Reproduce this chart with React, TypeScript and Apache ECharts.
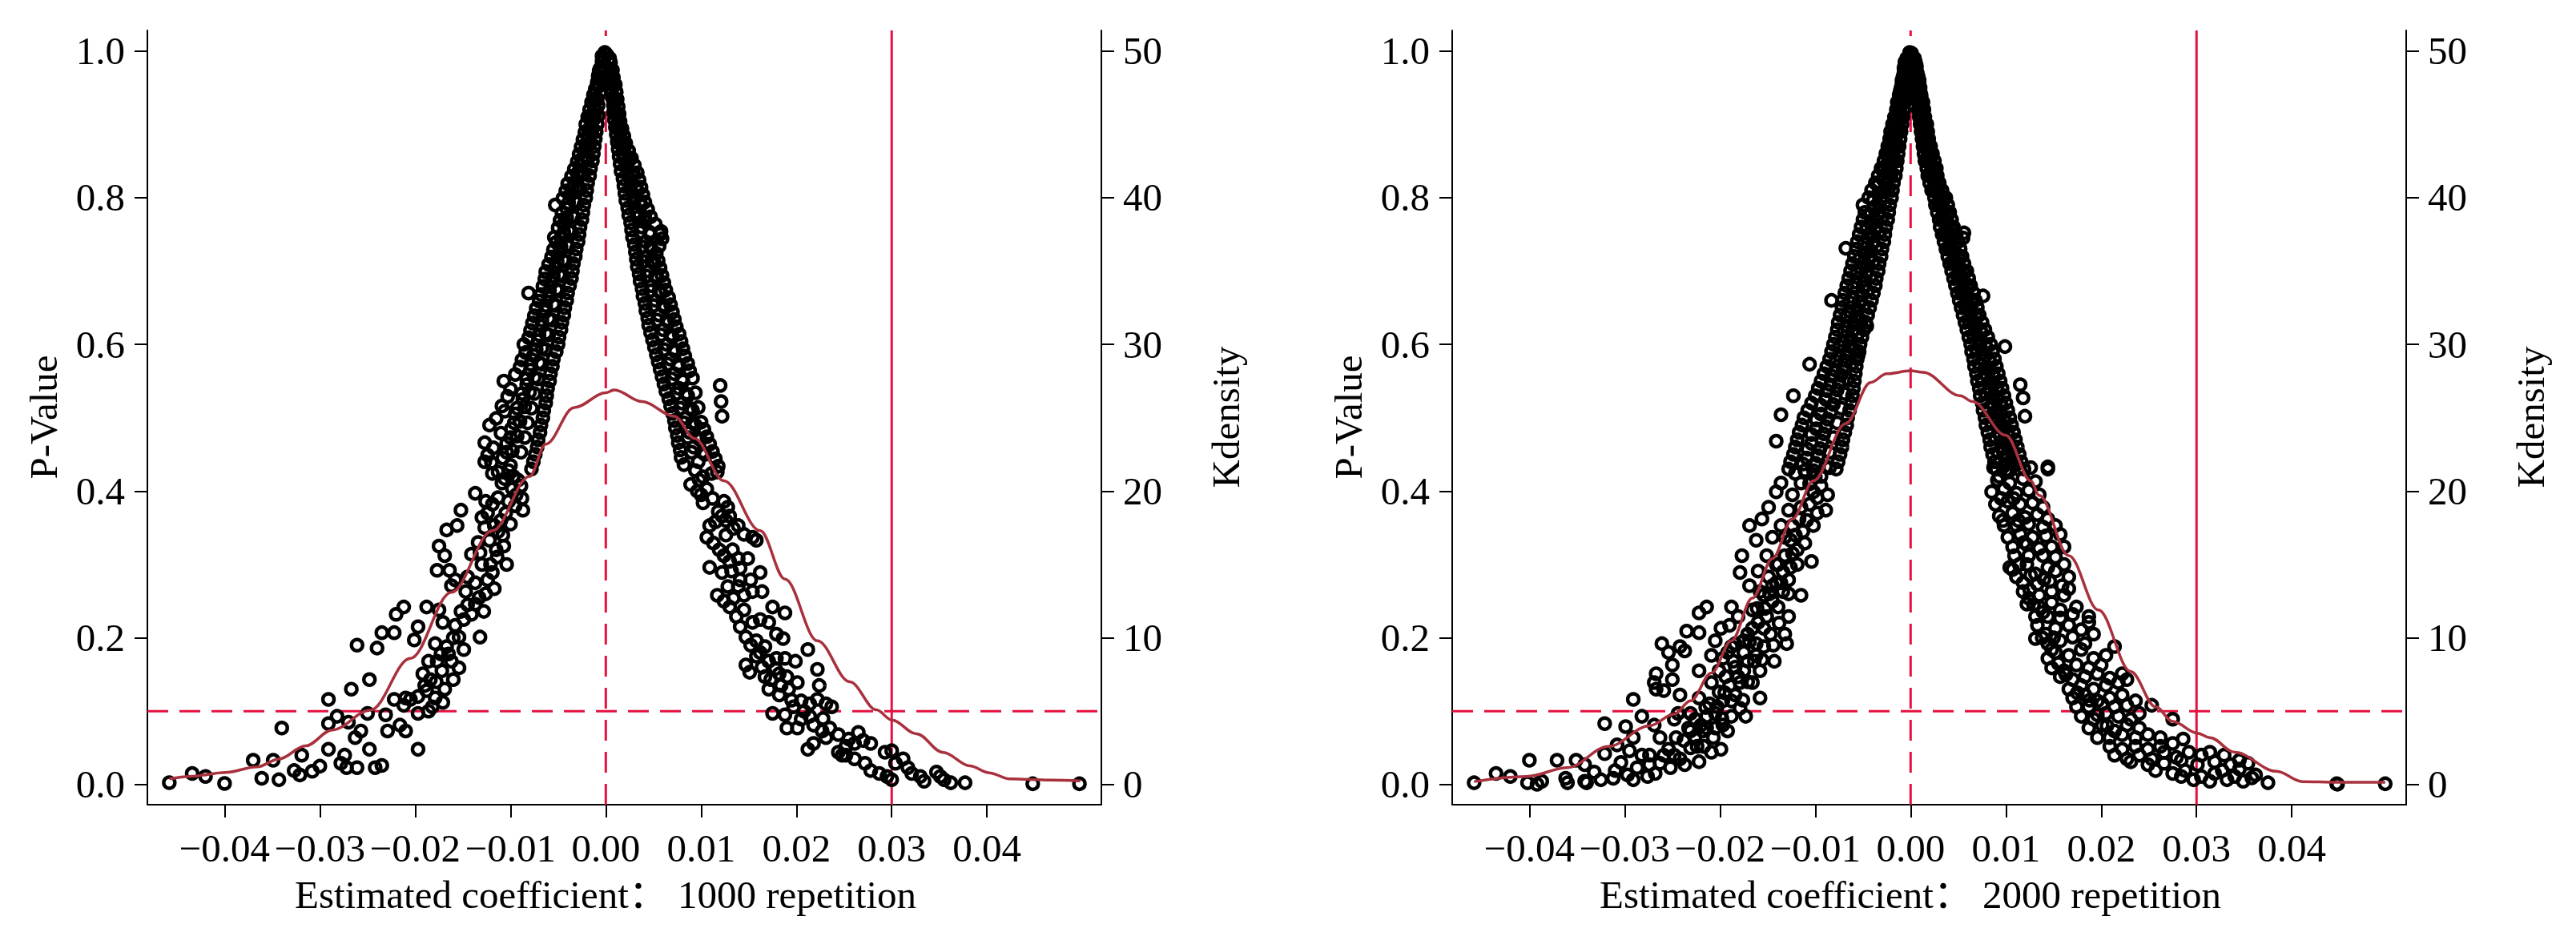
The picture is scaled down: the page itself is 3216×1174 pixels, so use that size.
import React, { useEffect, useRef } from "react";
import * as echarts from "echarts";

type Pt = [number, number];

const FONT = "'Liberation Serif', 'Times New Roman', 'Noto Sans CJK SC', serif";

const coefTicks = [-0.04, -0.03, -0.02, -0.01, 0, 0.01, 0.02, 0.03, 0.04];
const pTicks = [0, 0.2, 0.4, 0.6, 0.8, 1.0];
const kdTicks = [0, 10, 20, 30, 40, 50];

const zeroCoef = 0;
const pCutoff = 0.1;
const trueCoef = 0.03;

const X_MIN = -0.0481, X_MAX = 0.052;
const P_MIN = -0.0275, P_MAX = 1.028;
const KD_MIN = -1.375, KD_MAX = 51.4;

const xTitles = ["Estimated coefficient： 1000 repetition", "Estimated coefficient： 2000 repetition"];
const yTitleLeft = "P-Value";
const yTitleRight = "Kdensity";

// ---------- 1000 repetitions: [coefficient, p-value] ----------
const rep1000NegUpper: Pt[] = [
  [-.0001,.998],[-.0002,.99],[-.0004,.986],[-.0003,.98],[-.0006,.976],[-.0004,.97],[-.0008,.966],[-.0005,.96],[-.0009,.957],[-.0007,.952],
  [-.0011,.948],[-.0006,.943],[-.0013,.94],[-.0009,.935],[-.0015,.93],[-.0008,.926],[-.0012,.922],[-.0017,.92],[-.0008,.912],[-.0019,.91],
  [-.0013,.906],[-.0009,.9],[-.0021,.9],[-.0015,.895],[-.001,.89],[-.0022,.889],[-.0011,.88],[-.0024,.879],[-.0017,.875],[-.0012,.87],
  [-.0026,.869],[-.0013,.86],[-.0028,.859],[-.002,.855],[-.0014,.85],[-.003,.849],[-.0016,.84],[-.0033,.839],[-.0024,.835],[-.0017,.83],
  [-.0036,.829],[-.0019,.82],[-.004,.819],[-.0029,.815],[-.002,.81],[-.0042,.809],[-.0021,.8],[-.0045,.799],[-.0033,.795],[-.0023,.79],
  [-.0053,.79],[-.0024,.78],[-.0046,.779],[-.0035,.775],[-.0025,.77],[-.0048,.769],[-.0027,.76],[-.005,.759],[-.0039,.755],[-.0028,.75],
  [-.0054,.746],[-.0029,.74],[-.0052,.739],[-.0041,.735],[-.0031,.73],[-.0055,.729],[-.0032,.72],[-.0057,.719],[-.0045,.715],[-.0034,.71],
  [-.006,.709],[-.0035,.7],[-.0063,.699],[-.0049,.695],[-.0036,.69],[-.0064,.689],[-.0038,.68],[-.0066,.679],[-.0052,.675],[-.004,.67],
  [-.0081,.67],[-.0068,.668],[-.0041,.66],[-.007,.659],[-.0055,.655],[-.0043,.65],[-.0073,.649],[-.0044,.64],[-.0075,.639],[-.006,.635],
  [-.0046,.63],[-.0077,.629],[-.0047,.62],[-.0079,.619],[-.0063,.615],[-.0049,.61],[-.0081,.609],[-.005,.6],[-.0086,.6],[-.0067,.595],
  [-.0052,.59],[-.0084,.589],[-.0055,.58],[-.0088,.579],[-.007,.575],[-.0056,.57],[-.009,.569],[-.0058,.56],[-.0095,.559],[-.0075,.555],
  [-.0059,.55],[-.0107,.55],[-.0061,.54],[-.01,.539],[-.008,.535],[-.0062,.53],[-.0103,.529],[-.0063,.52],[-.0109,.516],[-.0085,.515],
  [-.0065,.51],[-.0106,.509],[-.0066,.5],[-.0115,.499],[-.009,.495],[-.0068,.49],[-.0122,.49],[-.0069,.48],[-.011,.479],[-.0093,.475],
  [-.0071,.47],[-.0127,.466],[-.0072,.46],[-.0118,.459],[-.0098,.455],[-.0074,.45],[-.0124,.449],[-.0076,.44],[-.012,.439],[-.01,.435],
  [-.0078,.43],[-.0127,.44],
  [-.0004,.993],[-.0007,.963],[-.0011,.932],[-.0016,.912],[-.0019,.884],[-.0022,.864],[-.0027,.844],[-.0031,.823],[-.0037,.804],[-.0041,.785],
  [-.0044,.764],[-.0047,.745],[-.0049,.724],[-.0053,.704],[-.0057,.684],[-.006,.664],[-.0064,.645],[-.0067,.625],[-.0071,.605],[-.0076,.585],
  [-.0079,.565],[-.0083,.545],[-.0087,.525],[-.0095,.505],[-.0099,.485],[-.0104,.465],[-.0108,.445],
  [-.0005,.973],[-.0007,.973],[-.0007,.953],[-.0009,.953],[-.001,.933],[-.0012,.933],[-.0012,.913],[-.0015,.913],[-.0014,.893],[-.0018,.893],
  [-.0017,.873],[-.0021,.873],[-.0019,.853],[-.0025,.853],[-.0023,.833],[-.003,.833],[-.0027,.813],[-.0035,.813],[-.003,.793],[-.0039,.793],
  [-.0033,.773],[-.0041,.773],[-.0036,.753],[-.0044,.753],[-.0039,.733],[-.0047,.733],[-.0043,.713],[-.0051,.713],[-.0045,.693],[-.0055,.693],
  [-.0049,.673],[-.0059,.673],[-.0053,.653],[-.0063,.653],[-.0056,.633],[-.0067,.633],[-.006,.613],[-.007,.613],[-.0063,.593],[-.0073,.593],
  [-.0067,.573],[-.0079,.573],[-.0071,.553],[-.0083,.553],[-.0075,.533],[-.0088,.533],[-.0078,.513],[-.0093,.513],[-.0082,.493],[-.0096,.493],
  [-.0085,.473],[-.01,.473],[-.0089,.453],[-.0104,.453]
];

const rep1000NegLower: Pt[] = [
  [-.0119,.424],[-.0113,.426],[-.0102,.428],[-.0109,.411],[-.0098,.403],[-.0089,.407],[-.0094,.395],[-.0102,.386],[-.0087,.374],[-.0137,.397],
  [-.0126,.386],[-.0119,.382],[-.0113,.391],[-.0124,.37],[-.013,.364],[-.0117,.353],[-.0113,.345],[-.0122,.333],[-.0115,.32],[-.0107,.325],
  [-.0132,.316],[-.0104,.3],[-.0119,.289],[-.013,.3],[-.0141,.314],[-.0152,.374],[-.0156,.353],[-.0167,.347],[-.0175,.325],[-.0169,.312],
  [-.0164,.292],[-.0177,.292],[-.0158,.279],[-.0145,.283],[-.0137,.275],[-.0162,.271],[-.0147,.263],[-.0117,.267],[-.0124,.279],[-.0137,.246],
  [-.0128,.236],[-.0141,.232],[-.0149,.225],[-.0158,.217],[-.0171,.221],[-.0175,.238],[-.0154,.201],[-.0132,.201],[-.0149,.184],[-.0167,.188],
  [-.0179,.192],[-.0173,.178],[-.0162,.168],[-.0177,.168],[-.0186,.168],[-.0154,.159],[-.0192,.151],[-.0184,.143],[-.0169,.13],[-.016,.143],
  [-.0179,.118],[-.0171,.112],[-.0182,.106],[-.0188,.128],[-.0197,.12],[-.021,.118],[-.0197,.097],[-.0222,.116],[-.0231,.095],[-.0212,.242],
  [-.022,.232],[-.0222,.207],[-.0201,.197],[-.0197,.215],[-.0188,.242],[-.0235,.207],[-.024,.186],[-.0261,.19],[-.0248,.143],[-.0267,.13],
  [-.0291,.116],[-.0282,.093],[-.0291,.083],[-.027,.085],[-.0257,.073],[-.025,.097],[-.0229,.073],[-.0216,.081],[-.021,.073],[-.0263,.064],
  [-.0248,.048],[-.0274,.04],[-.0272,.023],[-.0291,.048],[-.03,.025],[-.0308,.018],[-.0319,.04],[-.0321,.013],[-.0327,.019],[-.034,.077],
  [-.0343,.0065],[-.0349,.033],[-.0361,.0085],[-.037,.033],[-.04,.0015],[-.042,.011],[-.0434,.015],[-.0458,.0025],[-.0242,.023],[-.0235,.026],
  [-.0261,.023],[-.0278,.029],[-.0197,.048],[-.0205,.116],[-.0212,.108],[-.0092,.415],[-.0097,.42],[-.0106,.417],[-.0088,.39],[-.0095,.38],
  [-.0105,.37],[-.011,.36],[-.01,.355],[-.0108,.34],[-.0114,.31],[-.0121,.3],[-.0127,.35],[-.0134,.33],
  [-.0126,.26],[-.0133,.255],[-.0145,.245],[-.0152,.236],[-.016,.2],[-.0165,.178],[-.0172,.155],[-.0178,.14],[-.019,.135],[-.0186,.1]
];

const rep1000PosUpper: Pt[] = [
  [.0001,.995],[.0003,.986],[.0005,.984],[.0004,.976],[.0007,.974],[.0005,.966],[.0008,.964],[.0006,.956],[.001,.954],[.0006,.946],
  [.0011,.944],[.0007,.936],[.0012,.934],[.0008,.926],[.0013,.924],[.0008,.916],[.0014,.914],[.0009,.906],[.0015,.904],[.0012,.9],
  [.001,.896],[.0017,.894],[.0011,.886],[.0019,.884],[.0015,.88],[.0012,.876],[.0021,.874],[.0013,.866],[.0024,.864],[.0018,.86],
  [.0014,.856],[.0027,.854],[.0015,.846],[.003,.844],[.0022,.84],[.0016,.836],[.0033,.834],[.0018,.826],[.0035,.824],[.0027,.82],
  [.0019,.816],[.0037,.814],[.002,.806],[.0039,.804],[.003,.8],[.0021,.796],[.0041,.794],[.0023,.786],[.0044,.784],[.0033,.78],
  [.0024,.776],[.0047,.774],[.0026,.766],[.0052,.764],[.0038,.76],[.0027,.756],[.0058,.754],[.0059,.744],[.0057,.75],[.0028,.746],
  [.0042,.74],[.003,.736],[.0056,.734],[.0031,.726],[.0053,.724],[.0043,.72],[.0032,.716],[.0055,.714],[.0033,.706],[.0057,.704],
  [.0045,.7],[.0035,.696],[.0059,.694],[.0036,.686],[.0061,.684],[.0048,.68],[.0038,.676],[.0063,.674],[.0039,.666],[.0066,.664],
  [.0052,.66],[.0041,.656],[.0068,.654],[.0042,.646],[.007,.644],[.0056,.64],[.0044,.636],[.0072,.634],[.0045,.626],[.0074,.624],
  [.006,.62],[.0047,.616],[.0077,.614],[.0049,.606],[.0079,.604],[.0064,.6],[.0051,.596],[.0081,.594],[.0053,.586],[.0083,.584],
  [.0068,.58],[.0055,.576],[.0086,.574],[.0057,.566],[.0088,.564],[.0072,.56],[.0059,.556],[.0091,.554],[.0061,.546],[.012,.544],
  [.0077,.54],[.0063,.536],[.0094,.534],[.0066,.526],[.0121,.522],[.008,.52],[.0068,.516],[.0097,.514],[.007,.506],[.0122,.502],
  [.0084,.5],[.0072,.496],[.01,.494],[.0073,.486],[.0103,.484],[.0088,.48],[.0075,.476],[.0106,.474],[.0076,.466],[.0109,.464],
  [.0092,.46],[.0078,.456],[.0112,.454],[.0079,.446],[.0115,.444],[.0097,.44],[.0082,.436],[.0118,.434],
  [.0004,.99],[.0007,.96],[.001,.93],[.0013,.91],[.0016,.89],[.002,.87],[.0024,.85],[.0028,.83],[.0033,.81],[.0037,.79],
  [.004,.77],[.0046,.75],[.0048,.73],[.0051,.71],[.0054,.69],[.0058,.67],[.0062,.65],[.0066,.63],[.007,.61],[.0073,.59],
  [.0077,.57],[.0081,.55],[.0086,.53],[.0091,.51],[.0094,.49],[.0099,.47],[.0104,.45],
  [.0005,.973],[.0006,.973],[.0007,.953],[.0009,.953],[.0009,.933],[.0011,.933],[.0011,.913],[.0013,.913],[.0013,.893],[.0016,.893],
  [.0016,.873],[.0019,.873],[.0019,.853],[.0024,.853],[.0023,.833],[.0029,.833],[.0026,.813],[.0032,.813],[.0029,.793],[.0036,.793],
  [.0033,.773],[.0041,.773],[.0036,.753],[.0046,.753],[.0038,.733],[.0047,.733],[.004,.713],[.0048,.713],[.0043,.693],[.0052,.693],
  [.0047,.673],[.0056,.673],[.005,.653],[.006,.653],[.0054,.633],[.0064,.633],[.0058,.613],[.0068,.613],[.0061,.593],[.0071,.593],
  [.0065,.573],[.0076,.573],[.0069,.553],[.008,.553],[.0074,.533],[.0084,.533],[.0078,.513],[.0088,.513],[.0082,.493],[.0091,.493],
  [.0086,.473],[.0096,.473],[.009,.453],[.0101,.453]
];

const rep1000PosLower: Pt[] = [
  [.0094,.428],[.0102,.4195],[.0111,.424],[.0117,.426],[.0089,.409],[.0106,.403],[.01,.395],[.0102,.384],[.0124,.386],[.0128,.378],
  [.0122,.366],[.0115,.358],[.0109,.353],[.013,.366],[.0134,.349],[.0139,.353],[.0145,.341],[.0154,.337],[.0158,.333],[.0106,.337],
  [.0113,.329],[.0119,.32],[.0124,.312],[.013,.304],[.0139,.308],[.0149,.308],[.0109,.296],[.0122,.289],[.0132,.291],[.0141,.279],
  [.0152,.279],[.0162,.289],[.0117,.258],[.0124,.25],[.0134,.254],[.0145,.258],[.0154,.263],[.0164,.263],[.013,.242],[.0137,.229],
  [.0145,.238],[.0154,.221],[.0162,.225],[.0171,.221],[.0175,.242],[.0188,.234],[.0147,.201],[.0158,.196],[.0167,.188],[.0179,.205],
  [.0186,.199],[.0147,.163],[.0151,.153],[.0162,.18],[.0171,.168],[.0179,.172],[.0188,.172],[.0199,.168],[.0167,.147],[.0173,.143],
  [.0182,.151],[.019,.147],[.0171,.13],[.0182,.122],[.0192,.13],[.0201,.139],[.0212,.184],[.0222,.157],[.0224,.135],[.0205,.114],
  [.0214,.11],[.0222,.116],[.0231,.11],[.0237,.106],[.0175,.097],[.0188,.095],[.0197,.106],[.0205,.089],[.0214,.093],[.019,.077],
  [.0201,.077],[.0218,.081],[.0227,.073],[.0235,.077],[.0244,.068],[.0212,.048],[.0218,.056],[.0231,.064],[.0265,.071],[.0252,.052],
  [.0261,.056],[.027,.06],[.0278,.056],[.0248,.04],[.0261,.035],[.0272,.029],[.0278,.019],[.0287,.015],[.0295,.011],[.03,.0065],
  [.0293,.044],[.03,.046],[.0304,.029],[.0312,.035],[.0317,.023],[.0321,.015],[.033,.011],[.0334,.0044],[.0347,.017],[.0351,.011],
  [.0355,.0065],[.0362,.0024],[.0377,.0024],[.0244,.044],[.0252,.04],[.0448,.001],[.0497,.001],
  [.0098,.415],[.0096,.4],[.0112,.39],[.0118,.372],[.0126,.36],[.0126,.34],[.0133,.32],[.0141,.295],[.0128,.27],[.0139,.27],
  [.0141,.215],[.0152,.19],[.0158,.175],[.0164,.16],[.0178,.158],[.0184,.135],[.0195,.115],[.0208,.1],[.0228,.09],[.0255,.062]
];

// ---------- 2000 repetitions: [coefficient, p-value] ----------
const rep2000NegUpper: Pt[] = [
  [-.0001,.998],[-.0001,.993],
  [-.0002,.99],[-.0003,.988],[-.0004,.99],[-.0003,.98],[-.0004,.978],[-.0006,.98],[-.0004,.97],[-.0006,.968],[-.0007,.97],
  [-.0004,.96],[-.0007,.958],[-.0009,.96],[-.0005,.95],[-.0008,.948],[-.001,.95],[-.0006,.94],[-.0009,.938],[-.0012,.94],
  [-.0006,.93],[-.001,.928],[-.0014,.93],[-.0007,.92],[-.0011,.918],[-.0015,.92],[-.0008,.91],[-.0012,.908],[-.0017,.91],
  [-.0009,.9],[-.0013,.898],[-.0019,.9],[-.001,.89],[-.0015,.888],[-.0021,.89],[-.0011,.88],[-.0016,.878],[-.0022,.88],
  [-.0012,.87],[-.0018,.868],[-.0024,.87],[-.0013,.86],[-.0019,.858],[-.0026,.86],[-.0014,.85],[-.0021,.848],[-.0028,.85],
  [-.0015,.84],[-.0022,.838],[-.0031,.84],[-.0016,.83],[-.0024,.828],[-.0034,.83],[-.0018,.82],[-.0026,.818],[-.0037,.82],
  [-.0019,.81],[-.0028,.808],[-.0041,.81],[-.002,.8],[-.003,.798],[-.0044,.8],[-.0022,.79],[-.0032,.788],[-.005,.79],
  [-.0023,.78],[-.0034,.778],[-.0048,.78],[-.0024,.77],[-.0035,.768],[-.005,.77],[-.0026,.76],[-.0037,.758],[-.0052,.76],
  [-.0027,.75],[-.0039,.748],[-.0054,.75],[-.0028,.74],[-.004,.738],[-.0056,.74],[-.003,.73],[-.0042,.728],[-.0057,.73],[-.0068,.731],
  [-.0031,.72],[-.0044,.718],[-.0059,.72],[-.0033,.71],[-.0046,.708],[-.0061,.71],[-.0034,.7],[-.0047,.698],[-.0063,.7],
  [-.0036,.69],[-.0049,.688],[-.0065,.69],[-.0037,.68],[-.005,.678],[-.0067,.68],[-.0039,.67],[-.0052,.668],[-.0069,.67],
  [-.0041,.66],[-.0054,.658],[-.0071,.66],[-.0083,.66],[-.0043,.65],[-.0056,.648],[-.0072,.65],[-.0045,.64],[-.0058,.638],[-.0074,.64],
  [-.0047,.63],[-.0059,.628],[-.0076,.63],[-.0049,.62],[-.0061,.618],[-.0077,.62],[-.0046,.625],[-.0051,.61],[-.0063,.608],[-.0079,.61],
  [-.0053,.6],[-.0065,.598],[-.0081,.6],[-.0054,.59],[-.0067,.588],[-.0083,.59],[-.0055,.585],[-.0056,.58],[-.0069,.578],[-.0085,.58],
  [-.0057,.57],[-.0071,.568],[-.0088,.57],[-.0106,.573],[-.0058,.56],[-.0073,.558],[-.0091,.56],[-.0059,.55],[-.0075,.548],[-.0094,.55],
  [-.006,.54],[-.0077,.538],[-.0097,.54],[-.0061,.53],[-.0079,.528],[-.01,.53],[-.0123,.53],[-.0062,.52],[-.0081,.518],[-.0104,.52],
  [-.0064,.51],[-.0084,.508],[-.0108,.51],[-.0066,.5],[-.0087,.498],[-.0112,.5],[-.0136,.504],[-.0067,.49],[-.0089,.488],[-.0114,.49],
  [-.0069,.48],[-.0091,.478],[-.0117,.48],[-.0071,.47],[-.0093,.468],[-.0119,.47],[-.0141,.468],[-.0072,.46],[-.0095,.458],[-.0121,.46],
  [-.0074,.45],[-.0097,.448],[-.0123,.45],[-.0076,.44],[-.01,.438],[-.0126,.44],[-.0078,.43],[-.0102,.428],[-.0128,.43],
  [-.0006,.985],[-.0008,.965],[-.0011,.945],[-.0013,.925],[-.0016,.905],[-.0019,.885],[-.0022,.865],[-.0025,.845],[-.0029,.825],[-.0034,.805],
  [-.0038,.785],[-.0042,.765],[-.0045,.745],[-.0049,.725],[-.0053,.705],[-.0057,.685],[-.0061,.665],[-.0064,.645],[-.0067,.625],[-.0071,.605],
  [-.0075,.585],[-.0079,.565],[-.0084,.545],[-.0089,.525],[-.0094,.505],[-.0099,.485],[-.0104,.465],[-.0109,.445],
  [-.0005,.973],[-.0007,.977],[-.0006,.953],[-.0009,.957],[-.0008,.933],[-.0012,.937],[-.001,.913],[-.0014,.917],[-.0012,.893],[-.0017,.897],
  [-.0015,.873],[-.0021,.877],[-.0017,.853],[-.0024,.857],[-.002,.833],[-.0029,.837],[-.0023,.813],[-.0034,.817],[-.0027,.793],[-.0039,.797],
  [-.003,.773],[-.0042,.777],[-.0033,.753],[-.0046,.757],[-.0036,.733],[-.0049,.737],[-.0039,.713],[-.0053,.717],[-.0042,.693],[-.0056,.697],
  [-.0045,.673],[-.006,.677],[-.0049,.653],[-.0064,.657],[-.0052,.633],[-.0067,.637],[-.0056,.613],[-.007,.617],[-.0059,.593],[-.0074,.597],
  [-.0062,.573],[-.0078,.577],[-.0066,.553],[-.0083,.557],[-.0069,.533],[-.0088,.537],[-.0073,.513],[-.0094,.517],[-.0077,.493],[-.0099,.497],
  [-.0081,.473],[-.0104,.477],[-.0085,.453],[-.0108,.457],[-.0089,.433],[-.0113,.437]
];

const rep2000NegLower: Pt[] = [
  [-.0458,.0024],[-.0435,.015],[-.042,.011],[-.04,.033],[-.0402,.0024],[-.0392,.0003],[-.0387,.0044],[-.0371,.033],[-.0362,.0085],[-.0351,.033],
  [-.0342,.0044],[-.034,.0024],[-.0332,.017],[-.0342,.027],[-.0321,.083],[-.0321,.042],[-.0312,.0085],[-.031,.019],[-.0308,.054],[-.0299,.079],
  [-.0297,.013],[-.0295,.046],[-.0291,.064],[-.0291,.116],[-.0287,.023],[-.0282,.093],[-.0276,.011],[-.0274,.04],[-.0274,.027],[-.0269,.139],
  [-.0269,.081],[-.0267,.151],[-.0267,.13],[-.0263,.064],[-.0263,.029],[-.0261,.192],[-.0259,.128],[-.0254,.18],[-.0254,.048],[-.025,.163],
  [-.025,.143],[-.0248,.089],[-.0246,.064],[-.0244,.097],[-.0242,.122],[-.0242,.188],[-.0237,.182],[-.0237,.027],[-.0235,.209],[-.0233,.077],
  [-.0231,.097],[-.0231,.05],[-.0226,.089],[-.0224,.052],[-.0222,.207],[-.0222,.234],[-.0222,.155],[-.0222,.118],[-.022,.081],[-.0218,.073],
  [-.0214,.242],[-.0214,.093],[-.0211,.11],[-.0209,.176],[-.0209,.139],[-.0207,.064],[-.0205,.077],[-.0205,.196],[-.0203,.106],[-.0201,.126],
  [-.0201,.155],[-.0199,.213],[-.0199,.048],[-.0197,.081],[-.0197,.114],[-.0194,.147],[-.0192,.18],[-.019,.135],[-.019,.217],[-.0188,.242],
  [-.0188,.093],[-.0186,.168],[-.0184,.122],[-.0184,.192],[-.0181,.229],[-.0181,.147],[-.0179,.104],[-.0179,.289],[-.0177,.312],[-.0175,.155],
  [-.0175,.18],[-.0173,.093],[-.0171,.205],[-.0169,.353],[-.0169,.271],[-.0166,.238],[-.0166,.139],[-.0164,.168],[-.0162,.333],[-.0162,.192],
  [-.016,.291],[-.016,.221],[-.0158,.118],[-.0158,.155],[-.0156,.362],[-.0154,.258],[-.0154,.188],[-.0151,.312],[-.0151,.229],[-.0149,.378],
  [-.0147,.205],[-.0145,.271],[-.0145,.337],[-.0143,.168],[-.0141,.399],[-.0141,.3],[-.0139,.242],[-.0136,.411],[-.0136,.353],[-.0134,.263],
  [-.0132,.205],[-.0132,.312],[-.013,.192],[-.0128,.374],[-.0128,.279],[-.0128,.229],[-.0126,.333],[-.0124,.395],[-.0121,.424],[-.0119,.3],
  [-.0117,.362],[-.0115,.258],[-.0115,.411],[-.0111,.329],[-.0106,.382],[-.0104,.304],[-.0102,.353],[-.01,.4195],[-.0098,.391],[-.0094,.407],
  [-.0089,.374],[-.0087,.395],[-.0085,.432],[-.0111,.428],[-.0102,.399],[-.0115,.378],[-.0124,.353],[-.0132,.337],[-.0119,.32],[-.0139,.3],
  [-.0126,.296],[-.0149,.283],[-.0136,.275],[-.0158,.263],[-.0145,.25],[-.0166,.213],[-.0154,.213],[-.0175,.196],[-.0162,.176],[-.0188,.188],
  [-.0171,.168],[-.0197,.172],[-.0179,.139],[-.0188,.114],[-.0205,.097],[-.0214,.077],[-.0192,.073],[-.0231,.073],[-.0209,.044],[-.0222,.031],
  [-.0248,.04],[-.0252,.023],[-.0282,.04],[-.0291,.0065],[-.0325,.0065],[-.036,.0024],
  [-.0094,.42],[-.0106,.41],[-.0098,.37],[-.0109,.36],[-.0113,.345],[-.0121,.34],[-.0124,.315],[-.0134,.29],[-.0141,.275],[-.0128,.26],
  [-.0148,.26],[-.0138,.22],[-.0153,.24],[-.0161,.24],[-.0144,.19],[-.0169,.195],[-.0156,.17],[-.0184,.16],[-.0171,.14],[-.0195,.125],
  [-.0176,.115],[-.0215,.105],[-.0198,.09],[-.0226,.065],[-.0238,.06],[-.0217,.052],[-.0259,.04],[-.0242,.035],[-.0268,.015],[-.0304,.03]
];

const rep2000PosUpper: Pt[] = [
  [.0001,.997],[.0001,.993],
  [.0002,.99],[.0003,.988],[.0004,.99],[.0003,.98],[.0004,.978],[.0006,.98],[.0004,.97],[.0006,.968],[.0007,.97],
  [.0005,.96],[.0007,.958],[.0009,.96],[.0006,.95],[.0008,.948],[.001,.95],[.0007,.94],[.0009,.938],[.0011,.94],
  [.0008,.93],[.001,.928],[.0013,.93],[.0008,.92],[.0011,.918],[.0014,.92],[.0009,.91],[.0012,.908],[.0015,.91],
  [.001,.9],[.0013,.898],[.0017,.9],[.0011,.89],[.0014,.888],[.0018,.89],[.0012,.88],[.0015,.878],[.0019,.88],
  [.0013,.87],[.0017,.868],[.0021,.87],[.0014,.86],[.0018,.858],[.0023,.86],[.0015,.85],[.002,.848],[.0025,.85],
  [.0017,.84],[.0022,.838],[.0027,.84],[.0018,.83],[.0023,.828],[.0028,.83],[.002,.82],[.0025,.818],[.003,.82],
  [.0022,.81],[.0027,.808],[.0033,.81],[.0025,.8],[.0031,.798],[.0037,.8],[.0026,.79],[.0032,.788],[.0039,.79],
  [.0028,.78],[.0034,.778],[.0041,.78],[.003,.77],[.0036,.768],[.0043,.77],[.0031,.76],[.0038,.758],[.0045,.76],
  [.0033,.75],[.004,.748],[.0048,.75],[.0056,.752],[.0035,.74],[.0042,.738],[.005,.74],[.0055,.745],[.0037,.73],[.0044,.728],[.0052,.73],
  [.0039,.72],[.0046,.718],[.0054,.72],[.0041,.71],[.0048,.708],[.0056,.71],[.0043,.7],[.0051,.698],[.0059,.7],
  [.0045,.69],[.0053,.688],[.0061,.69],[.0047,.68],[.0055,.678],[.0063,.68],[.0049,.67],[.0057,.668],[.0066,.67],[.0076,.666],
  [.0051,.66],[.0059,.658],[.0068,.66],[.0053,.65],[.0061,.648],[.007,.65],[.0055,.64],[.0063,.638],[.0072,.64],
  [.0057,.63],[.0066,.628],[.0075,.63],[.0059,.62],[.0068,.618],[.0078,.62],[.0061,.61],[.0071,.608],[.0081,.61],
  [.0063,.6],[.0073,.598],[.0084,.6],[.0064,.59],[.0075,.588],[.0086,.59],[.0099,.597],[.0066,.58],[.0077,.578],[.0088,.58],
  [.0067,.57],[.0078,.568],[.009,.57],[.0069,.56],[.008,.558],[.0092,.56],[.007,.55],[.0082,.548],[.0094,.55],[.0115,.545],
  [.0072,.54],[.0084,.538],[.0096,.54],[.0073,.53],[.0085,.528],[.0098,.53],[.0118,.527],[.0075,.52],[.0087,.518],[.01,.52],
  [.0076,.51],[.0089,.508],[.0102,.51],[.0078,.5],[.0091,.498],[.0104,.5],[.012,.502],[.0079,.49],[.0092,.488],[.0106,.49],
  [.0081,.48],[.0094,.478],[.0108,.48],[.0083,.47],[.0096,.468],[.011,.47],[.0084,.46],[.0098,.458],[.0112,.46],
  [.0086,.45],[.01,.448],[.0114,.45],[.0088,.44],[.0102,.438],[.0116,.44],[.009,.43],[.0104,.428],[.0119,.43],[.0144,.433],
  [.0005,.985],[.0008,.965],[.001,.945],[.0012,.925],[.0014,.905],[.0017,.885],[.0019,.865],[.0022,.845],[.0026,.825],[.003,.805],
  [.0035,.785],[.0039,.765],[.0043,.745],[.0047,.725],[.0051,.705],[.0056,.685],[.006,.665],[.0064,.645],[.0069,.625],[.0074,.605],
  [.0079,.585],[.0083,.565],[.0087,.545],[.0091,.525],[.0095,.505],[.0099,.485],[.0103,.465],[.0107,.445],
  [.0005,.973],[.0006,.977],[.0006,.953],[.0009,.957],[.0008,.933],[.0011,.937],[.001,.913],[.0013,.917],[.0012,.893],[.0015,.897],
  [.0015,.873],[.0018,.877],[.0017,.853],[.0022,.857],[.002,.833],[.0025,.837],[.0024,.813],[.003,.817],[.0029,.793],[.0035,.797],
  [.0033,.773],[.0039,.777],[.0036,.753],[.0043,.757],[.004,.733],[.0047,.737],[.0044,.713],[.0051,.717],[.0049,.693],[.0056,.697],
  [.0053,.673],[.006,.677],[.0057,.653],[.0064,.657],[.0061,.633],[.0069,.637],[.0066,.613],[.0074,.617],[.0069,.593],[.0079,.597],
  [.0072,.573],[.0083,.577],[.0075,.553],[.0087,.557],[.0079,.533],[.0091,.537],[.0082,.513],[.0095,.517],[.0085,.493],[.0098,.497],
  [.0089,.473],[.0102,.477],[.0092,.453],[.0106,.457],[.0097,.433],[.0111,.437]
];

const rep2000PosLower: Pt[] = [
  [.0087,.432],[.01,.428],[.0113,.43],[.0126,.432],[.0144,.43],[.0091,.415],[.0104,.411],[.0118,.417],[.0131,.413],[.0085,.399],
  [.0098,.403],[.0111,.397],[.0124,.401],[.0135,.395],[.0089,.382],[.0102,.386],[.0115,.382],[.0128,.384],[.0139,.378],[.0093,.366],
  [.0107,.37],[.012,.364],[.0133,.368],[.0144,.362],[.0098,.353],[.0111,.353],[.0124,.355],[.0139,.351],[.0152,.353],[.0102,.337],
  [.0115,.341],[.0128,.337],[.0142,.339],[.0157,.341],[.0107,.324],[.0122,.327],[.0135,.322],[.0148,.324],[.0161,.324],[.0109,.312],
  [.0124,.312],[.0139,.312],[.0152,.31],[.0104,.296],[.0111,.283],[.0122,.3],[.0131,.287],[.0144,.296],[.0152,.291],[.0161,.3],
  [.0118,.275],[.0133,.273],[.0146,.277],[.0159,.271],[.0166,.283],[.0107,.293],[.0118,.263],[.0124,.254],[.0135,.258],[.0148,.263],
  [.0161,.258],[.0166,.267],[.0122,.246],[.0135,.242],[.0148,.248],[.0157,.238],[.0174,.242],[.0131,.229],[.0144,.229],[.0157,.227],
  [.017,.232],[.0187,.229],[.0133,.217],[.0142,.205],[.0152,.213],[.0166,.217],[.0179,.211],[.0187,.221],[.0131,.199],[.0144,.192],
  [.0157,.196],[.017,.201],[.0183,.192],[.0192,.205],[.0148,.184],[.0144,.172],[.0152,.18],[.0166,.176],[.0179,.184],[.0192,.172],
  [.0205,.176],[.0214,.188],[.0148,.159],[.0161,.155],[.0174,.163],[.0187,.159],[.02,.163],[.0222,.151],[.0157,.147],[.017,.143],
  [.0183,.147],[.0196,.151],[.0227,.143],[.0209,.145],[.0166,.13],[.0179,.135],[.0192,.13],[.0205,.135],[.0218,.139],[.017,.118],
  [.0183,.122],[.0196,.114],[.0209,.118],[.0222,.122],[.0236,.114],[.0174,.106],[.0187,.106],[.0201,.11],[.0214,.106],[.0227,.108],
  [.0253,.108],[.0179,.093],[.0192,.089],[.0205,.097],[.0218,.093],[.0231,.089],[.024,.097],[.0275,.089],[.0187,.077],[.0201,.081],
  [.0214,.073],[.0227,.081],[.024,.077],[.0196,.064],[.0209,.064],[.0222,.068],[.0236,.064],[.0249,.068],[.0262,.064],[.0286,.062],
  [.0209,.052],[.0222,.048],[.0236,.052],[.0249,.048],[.0262,.052],[.0275,.056],[.0214,.04],[.0227,.035],[.024,.04],[.0253,.035],
  [.0266,.044],[.0279,.037],[.0292,.044],[.0305,.04],[.0314,.044],[.0329,.04],[.0231,.031],[.0249,.027],[.0266,.029],[.0284,.033],
  [.0301,.027],[.0319,.031],[.0336,.027],[.0345,.033],[.0354,.029],[.0257,.019],[.0275,.015],[.0288,.019],[.0297,.0065],[.0305,.011],
  [.0319,.015],[.0332,.0065],[.034,.011],[.0349,.0044],[.0358,.009],[.0362,.013],[.0375,.0024],[.0284,.011],[.0314,.0044],[.0327,.019],
  [.0345,.021],[.0447,.001],[.0448,.0005],[.0498,.001],
  [.0093,.42],[.0095,.39],[.0108,.39],[.0097,.36],[.0113,.36],[.0119,.33],[.0114,.3],[.0126,.285],[.0125,.265],[.014,.28],
  [.0129,.245],[.0139,.235],[.0138,.2],[.015,.2],[.0155,.165],[.0163,.15],[.0175,.125],[.0188,.115],[.0196,.095],[.0206,.08]
];

// ---------- kernel density curves ----------
const kd1000Coef = [-0.0458,-0.0436,-0.0399,-0.0366,-0.0343,-0.0315,-0.0287,-0.0247,-0.0205,-0.0162,-0.0119,-0.0080,-0.0063,-0.0033,0.0,0.0009,0.0038,0.0072,0.0093,0.0124,0.0162,0.0188,0.0222,0.0256,0.0284,0.0300,0.0326,0.0354,0.0382,0.0402,0.0424,0.0466,0.0498];
const kd1000Dens = [0.38,0.55,0.82,1.2,1.74,2.63,3.72,5.07,8.6,13.1,17.3,21.0,23.2,25.7,26.7,26.9,26.1,25.1,23.6,20.7,17.3,14.0,9.8,7.0,5.09,4.4,3.45,2.18,1.27,0.8,0.38,0.3,0.25];

const kd2000Coef = [-0.0458,-0.0403,-0.036,-0.0317,-0.0274,-0.0248,-0.0231,-0.0209,-0.0188,-0.0166,-0.0145,-0.0124,-0.0102,-0.0068,-0.0042,-0.0025,0.0,0.0013,0.0052,0.0065,0.010,0.0126,0.0135,0.0166,0.0197,0.0231,0.0257,0.0275,0.0301,0.0314,0.034,0.0384,0.0411,0.0447,0.0498];
const kd2000Dens = [0.2,0.55,1.15,2.6,4.0,4.8,5.7,7.6,9.8,12.7,15.4,18.1,20.7,24.6,27.4,28.0,28.2,28.1,26.5,26.1,23.8,20.7,19.7,15.6,11.9,7.7,5.3,4.3,3.5,3.2,2.2,0.9,0.2,0.15,0.15];

const panels = [
  { scatter: [...rep1000NegUpper, ...rep1000NegLower, ...rep1000PosUpper, ...rep1000PosLower], kdX: kd1000Coef, kdY: kd1000Dens },
  { scatter: [...rep2000NegUpper, ...rep2000NegLower, ...rep2000PosUpper, ...rep2000PosLower], kdX: kd2000Coef, kdY: kd2000Dens },
];

const gridLefts = [184, 1813];
const GRID_TOP = 38, GRID_W = 1191, GRID_H = 967;
const RED = "#E5103F";
const KD_COLOR = "#A8313D";

const fmtCoef = (v: number) => (v < -1e-9 ? "\u2212" : "") + Math.abs(v).toFixed(2);

function buildOption() {
  const axisCommon = {
    axisLine: { show: true, onZero: false, lineStyle: { color: "#000", width: 2 } },
    axisTick: { show: true, inside: false, length: 16, lineStyle: { color: "#000", width: 2 } },
    splitLine: { show: false },
  };
  const labelStyle = { fontFamily: FONT, fontSize: 49, color: "#000", lineHeight: 49 };

  const xAxis: any[] = [];
  const yAxis: any[] = [];
  const series: any[] = [];
  const grid: any[] = [];
  const graphic: any[] = [];

  panels.forEach((pn, g) => {
    grid.push({ left: gridLefts[g], top: GRID_TOP, width: GRID_W, height: GRID_H, containLabel: false });
    xAxis.push({
      type: "value", gridIndex: g, min: X_MIN, max: X_MAX, ...axisCommon,
      axisTick: { ...axisCommon.axisTick, customValues: coefTicks },
      axisLabel: { ...labelStyle, customValues: coefTicks, formatter: fmtCoef, margin: 30 },
    });
    yAxis.push({
      type: "value", gridIndex: g, position: "left", min: P_MIN, max: P_MAX, ...axisCommon,
      axisTick: { ...axisCommon.axisTick, customValues: pTicks },
      axisLabel: { ...labelStyle, customValues: pTicks, formatter: (v: number) => v.toFixed(1), margin: 28 },
    });
    yAxis.push({
      type: "value", gridIndex: g, position: "right", min: KD_MIN, max: KD_MAX, ...axisCommon,
      axisTick: { ...axisCommon.axisTick, customValues: kdTicks },
      axisLabel: { ...labelStyle, customValues: kdTicks, formatter: (v: number) => String(v), margin: 27 },
    });
    const pY = 2 * g, kY = 2 * g + 1;
    const refBase = { type: "line", xAxisIndex: g, yAxisIndex: pY, symbol: "none", silent: true, z: 1, animation: false };
    series.push({ ...refBase, data: [[zeroCoef, P_MIN], [zeroCoef, P_MAX]], lineStyle: { color: RED, width: 3, type: [26, 14] } });
    series.push({ ...refBase, data: [[X_MIN, pCutoff], [X_MAX, pCutoff]], lineStyle: { color: RED, width: 3, type: [26, 14] } });
    series.push({ ...refBase, data: [[trueCoef, P_MIN], [trueCoef, P_MAX]], lineStyle: { color: RED, width: 3, type: "solid" } });
    series.push({
      type: "scatter", xAxisIndex: g, yAxisIndex: pY, data: pn.scatter, symbol: "circle", symbolSize: 14,
      itemStyle: { color: "rgba(255,255,255,0)", borderColor: "#000", borderWidth: 4.4, opacity: 1 },
      large: false, progressive: 0, silent: true, z: 2,
    });
    series.push({
      type: "line", xAxisIndex: g, yAxisIndex: kY, data: pn.kdX.map((x, i) => [x, pn.kdY[i]]),
      symbol: "none", smooth: 0.35, smoothMonotone: "x", lineStyle: { color: KD_COLOR, width: 3.5 }, silent: true, z: 3,
    });

    const gl = gridLefts[g];
    const titleStyle = { fontFamily: FONT, fontSize: 49, fill: "#000", align: "center", verticalAlign: "middle", textAlign: "center", textVerticalAlign: "middle" };
    graphic.push({ type: "text", x: gl + 572, y: 1117, style: { ...titleStyle, text: xTitles[g] } });
    graphic.push({ type: "text", x: gl - 130, y: 521, rotation: Math.PI / 2, style: { ...titleStyle, text: yTitleLeft } });
    graphic.push({ type: "text", x: gl + GRID_W + 155, y: 521, rotation: Math.PI / 2, style: { ...titleStyle, text: yTitleRight } });
  });

  return { animation: false, backgroundColor: "#ffffff", grid, xAxis, yAxis, series, graphic };
}

export default function App() {
  const ref = useRef<HTMLDivElement>(null);
  useEffect(() => {
    if (!ref.current) return;
    const chart = echarts.init(ref.current, undefined, { renderer: "svg" });
    chart.setOption(buildOption() as any);
    return () => chart.dispose();
  }, []);
  return <div ref={ref} style={{ position: "absolute", left: 0, top: 0, width: 3216, height: 1174, background: "#fff" }} />;
}
